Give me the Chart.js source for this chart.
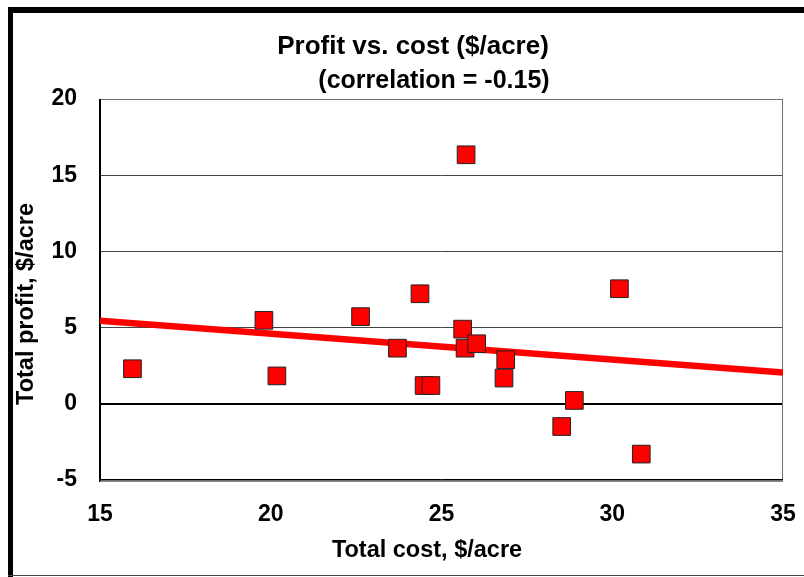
<!DOCTYPE html>
<html>
<head>
<meta charset="utf-8">
<script src="https://cdn.jsdelivr.net/npm/chart.js@4/dist/chart.umd.min.js"></script>
<style>
  html, body { margin: 0; padding: 0; background: #fff; overflow: hidden; }
  #c { display: block; }
</style>
</head>
<body>
<canvas id="c" width="804" height="577" style="width:804px;height:577px"></canvas>
<script>
// ---- data ----
const costs   = [15.95, 19.80, 20.18, 22.63, 23.71, 24.37, 24.49, 24.69, 25.62, 25.69, 25.72, 26.03, 26.83, 26.88, 28.52, 28.89, 30.21, 30.85];
const profits = [2.30, 5.48, 1.83, 5.72, 3.65, 7.22, 1.20, 1.20, 4.90, 3.65, 16.34, 3.94, 1.69, 2.89, -1.49, 0.22, 7.55, -3.30];
const trendX  = [15, 35];
const trendY  = [5.45, 2.05];
const xTicks  = [15, 20, 25, 30, 35];
const yTicks  = [-5, 0, 5, 10, 15, 20];
const titleText    = "Profit vs. cost ($/acre)";
const subtitleText = "(correlation = -0.15)";
const xTitle = "Total cost, $/acre";
const yTitle = "Total profit, $/acre";

const FONT = '"Liberation Sans", Arial, Helvetica, sans-serif';

const points = costs.map((c, i) => ({ x: c, y: profits[i] }));
const trend  = trendX.map((x, i) => ({ x: x, y: trendY[i] }));

const framePlugin = {
  id: 'frame',
  beforeDraw(chart) {
    const ctx = chart.ctx;
    ctx.save();
    ctx.fillStyle = '#fff';
    ctx.fillRect(0, 0, chart.width, chart.height);
    ctx.fillStyle = '#000';
    ctx.fillRect(8, 7, chart.width - 8, 6);
    ctx.fillRect(8, 7, 5, chart.height - 7);
    ctx.fillStyle = '#444';
    ctx.fillRect(8, chart.height - 2, chart.width - 8, 1);
    ctx.restore();
  },
  beforeDatasetsDraw(chart) {
    const ctx = chart.ctx;
    const a = chart.chartArea;
    ctx.save();
    ctx.strokeStyle = '#6e6e6e';
    ctx.lineWidth = 1;
    ctx.strokeRect(a.left + 0.5, a.top + 0.5, a.right - a.left - 1, a.bottom - a.top);
    ctx.strokeStyle = '#000';
    ctx.lineWidth = 2;
    ctx.beginPath();
    ctx.moveTo(a.left, a.top);
    ctx.lineTo(a.left, a.bottom + 2);
    ctx.stroke();
    ctx.lineWidth = 1;
    ctx.beginPath();
    ctx.moveTo(a.left, a.bottom - 0.5);
    ctx.lineTo(a.right, a.bottom - 0.5);
    ctx.stroke();
    ctx.strokeStyle = '#888';
    ctx.beginPath();
    ctx.moveTo(a.left, a.bottom + 1.5);
    ctx.lineTo(a.right, a.bottom + 1.5);
    ctx.stroke();
    ctx.restore();
  },
  afterDraw(chart) {
    const ctx = chart.ctx;
    ctx.save();
    ctx.fillStyle = '#000';
    ctx.textAlign = 'center';
    ctx.textBaseline = 'middle';
    ctx.font = 'bold 26px ' + FONT;
    ctx.fillText(titleText, 413, 47);
    ctx.font = 'bold 25px ' + FONT;
    ctx.fillText(subtitleText, 434, 81);
    ctx.font = 'bold 23.5px ' + FONT;
    ctx.fillText(xTitle, 427, 551);
    ctx.translate(27, 304);
    ctx.rotate(-Math.PI / 2);
    ctx.fillText(yTitle, 0, 0);
    ctx.restore();
  }
};

new Chart(document.getElementById('c'), {
  data: {
    datasets: [
      {
        type: 'scatter',
        data: points,
        pointStyle: 'rect',
        pointRadius: 12.5,
        pointHoverRadius: 12.5,
        backgroundColor: '#ff0000',
        borderColor: '#222',
        borderWidth: 1,
        order: 0
      },
      {
        type: 'line',
        data: trend,
        borderColor: '#ff0000',
        borderWidth: 6.5,
        pointRadius: 0,
        fill: false,
        tension: 0,
        order: 1
      }
    ]
  },
  options: {
    responsive: false,
    animation: false,
    events: [],
    layout: { padding: { top: 99, right: 21, left: 0, bottom: 0 } },
    plugins: { legend: { display: false }, tooltip: { enabled: false }, title: { display: false } },
    scales: {
      x: {
        type: 'linear',
        min: 15, max: 35,
        afterBuildTicks(scale) { scale.ticks = xTicks.map(v => ({ value: v })); },
        afterFit(scale) { scale.height = 97; scale.paddingLeft = 0; scale.paddingRight = 0; },
        grid: { display: false, drawTicks: false },
        border: { display: false },
        ticks: { padding: 21, color: '#000', font: { family: FONT, size: 23, weight: 'bold' } }
      },
      y: {
        type: 'linear',
        min: -5, max: 20,
        afterBuildTicks(scale) { scale.ticks = yTicks.map(v => ({ value: v })); },
        afterFit(scale) { scale.width = 100; scale.paddingTop = 0; scale.paddingBottom = 0; },
        grid: {
          drawTicks: false,
          color: ctx => (ctx.tick && ctx.tick.value === 0) ? '#000' : '#444',
          lineWidth: ctx => (ctx.tick && ctx.tick.value === 0) ? 2 : 1
        },
        border: { display: false },
        ticks: { padding: 23, color: '#000', font: { family: FONT, size: 23, weight: 'bold' } }
      }
    }
  },
  plugins: [framePlugin]
});
</script>
</body>
</html>
